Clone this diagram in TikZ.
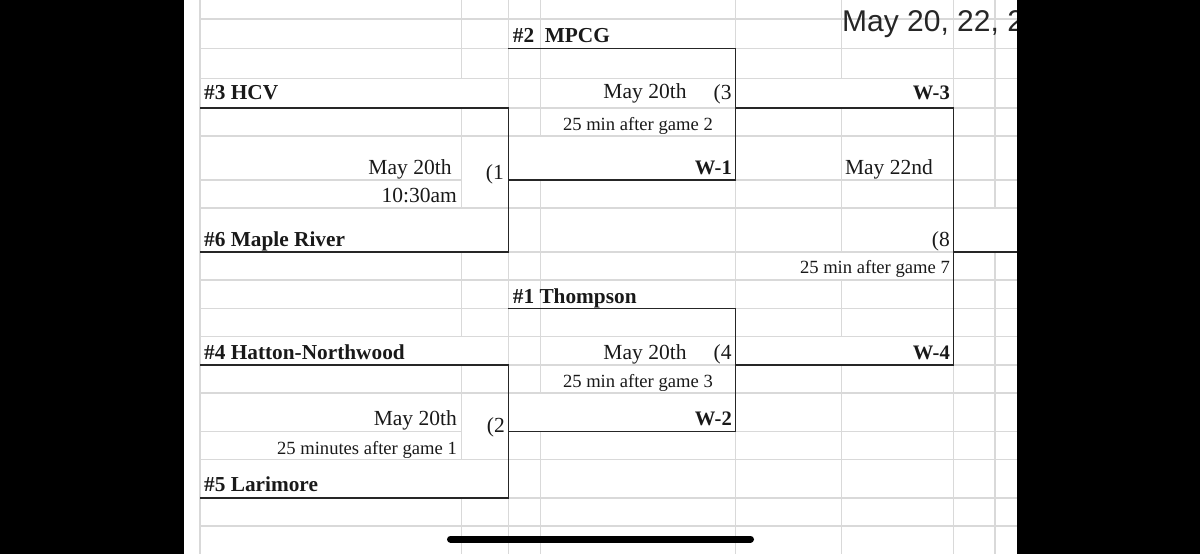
\documentclass[tikz,border=0pt]{standalone}
\usepackage{fontspec}
\setmainfont{Liberation Serif}
\newfontfamily\titlefont{Liberation Sans}
\tikzset{
	gridline/.style={draw=gridgray,line width=1.1pt},
	bracket/.style={draw=black!85,line width=1.4pt},
	team/.style={anchor=base west,inner sep=0pt,font=\fontsize{21.3}{24}\selectfont\bfseries},
	winner/.style={anchor=base east,inner sep=0pt,font=\fontsize{20.6}{24}\selectfont\bfseries},
	gamedate/.style={anchor=base east,inner sep=0pt,font=\fontsize{21.5}{24}\selectfont},
	gamenote/.style={anchor=base east,inner sep=0pt,font=\fontsize{18.6}{22}\selectfont},
	panel/.style={fill=black,draw=none}
}
\definecolor{gridgray}{HTML}{D9D9D9}
\begin{document}
\begin{tikzpicture}[x=1pt,y=-1pt,text=black!90]
	\useasboundingbox (0,0) rectangle (1200,554);
	\foreach \y in {19,48.7,78.7,108,136,208,252,280,308.7,336.7,365,393,459.7,498,526}
		\draw[gridline] (200,\y) -- (1017,\y);
	\foreach \y in {180,431.7} {
		\draw[gridline] (200,\y) -- (461.7,\y);
		\draw[gridline] (508.3,\y) -- (1017,\y);
	}
	\foreach \x/\ya/\yb in {200/0/554,508.3/0/554,735.7/0/554,953.3/0/554,
		461.7/0/78.7,461.7/108/208,461.7/252/336.7,461.7/365/459.7,461.7/498/554,
		540.7/0/136,540.7/180/393,540.7/431.7/554,
		841.7/0/78.7,841.7/108/252,841.7/280/336.7,841.7/365/554,
		995/0/208,995/252/554}
		\draw[gridline] (\x,\ya) -- (\x,\yb);

	\coordinate (hcvline) at (200,108);
	\coordinate (mapleline) at (200,252);
	\coordinate (hattonline) at (200,365);
	\coordinate (larimoreline) at (200,498);
	\coordinate (mpcgline) at (508.3,48.7);
	\coordinate (thompsonline) at (508.3,308.7);
	\coordinate (gameone) at (508.3,180);
	\coordinate (gametwo) at (508.3,431.7);
	\coordinate (gamethree) at (735.7,108);
	\coordinate (gamefour) at (735.7,365);
	\coordinate (gameeight) at (953.3,252);
	\coordinate (finalline) at (1017,252);

	\draw[bracket] (hcvline) -| (gameone) |- (mapleline);
	\draw[bracket] (hattonline) -| (gametwo) |- (larimoreline);
	\draw[bracket] (mpcgline) -| (gamethree) |- (gameone);
	\draw[bracket] (thompsonline) -| (gamefour) |- (gametwo);
	\draw[bracket] (gamethree) -| (gameeight) |- (gamefour);
	\draw[bracket] (gameeight) -- (finalline);

	\node[anchor=base west,inner sep=0pt,text=black!85,font=\titlefont\fontsize{30}{34}\selectfont] (title) at (842,31) {May 20, 22, 2};

	\node[team] (hcv) at (204,99) {\#3 HCV};
	\node[team] (maple) at (204,246) {\#6 Maple River};
	\node[team] (hatton) at (204,359) {\#4 Hatton-Northwood};
	\node[team] (larimore) at (204,491.7) {\#5 Larimore};
	\node[team] (mpcg) at (512.7,42.5) {\#2~~MPCG};
	\node[team] (thompson) at (512.7,303) {\#1 Thompson};

	\node[gamedate] (dateone) at (451.7,174) {May 20th};
	\node[gamedate] (timeone) at (457,202.7) {10:30am};
	\node[gamedate] (numone) at (504,179) {(1};
	\node[gamedate] (datetwo) at (457,425.7) {May 20th};
	\node[gamenote] (timetwo) at (457,454) {25 minutes after game 1};
	\node[gamedate] (numtwo) at (505,432) {(2};
	\node[gamedate] (datethree) at (686.7,98.7) {May 20th};
	\node[gamedate] (numthree) at (731.7,99) {(3};
	\node[gamenote] (timethree) at (713,130.3) {25 min after game 2};
	\node[gamedate] (datefour) at (686.7,359) {May 20th};
	\node[gamedate] (numfour) at (731.7,359) {(4};
	\node[gamenote] (timefour) at (713,387.7) {25 min after game 3};
	\node[gamedate] (dateeight) at (933,174) {May 22nd};
	\node[gamedate] (numeight) at (950,246.7) {(8};
	\node[gamenote] (timeeight) at (950,273) {25 min after game 7};

	\node[winner] (wone) at (732,174) {W-1};
	\node[winner] (wtwo) at (732,425.7) {W-2};
	\node[winner] (wthree) at (950,99) {W-3};
	\node[winner] (wfour) at (950,359) {W-4};

	\fill[panel] (0,0) rectangle (184,554);
	\fill[panel] (1017,0) rectangle (1200,554);
	\draw[line width=7pt,line cap=round] (450.5,539) -- (750.5,539);
\end{tikzpicture}
\end{document}
